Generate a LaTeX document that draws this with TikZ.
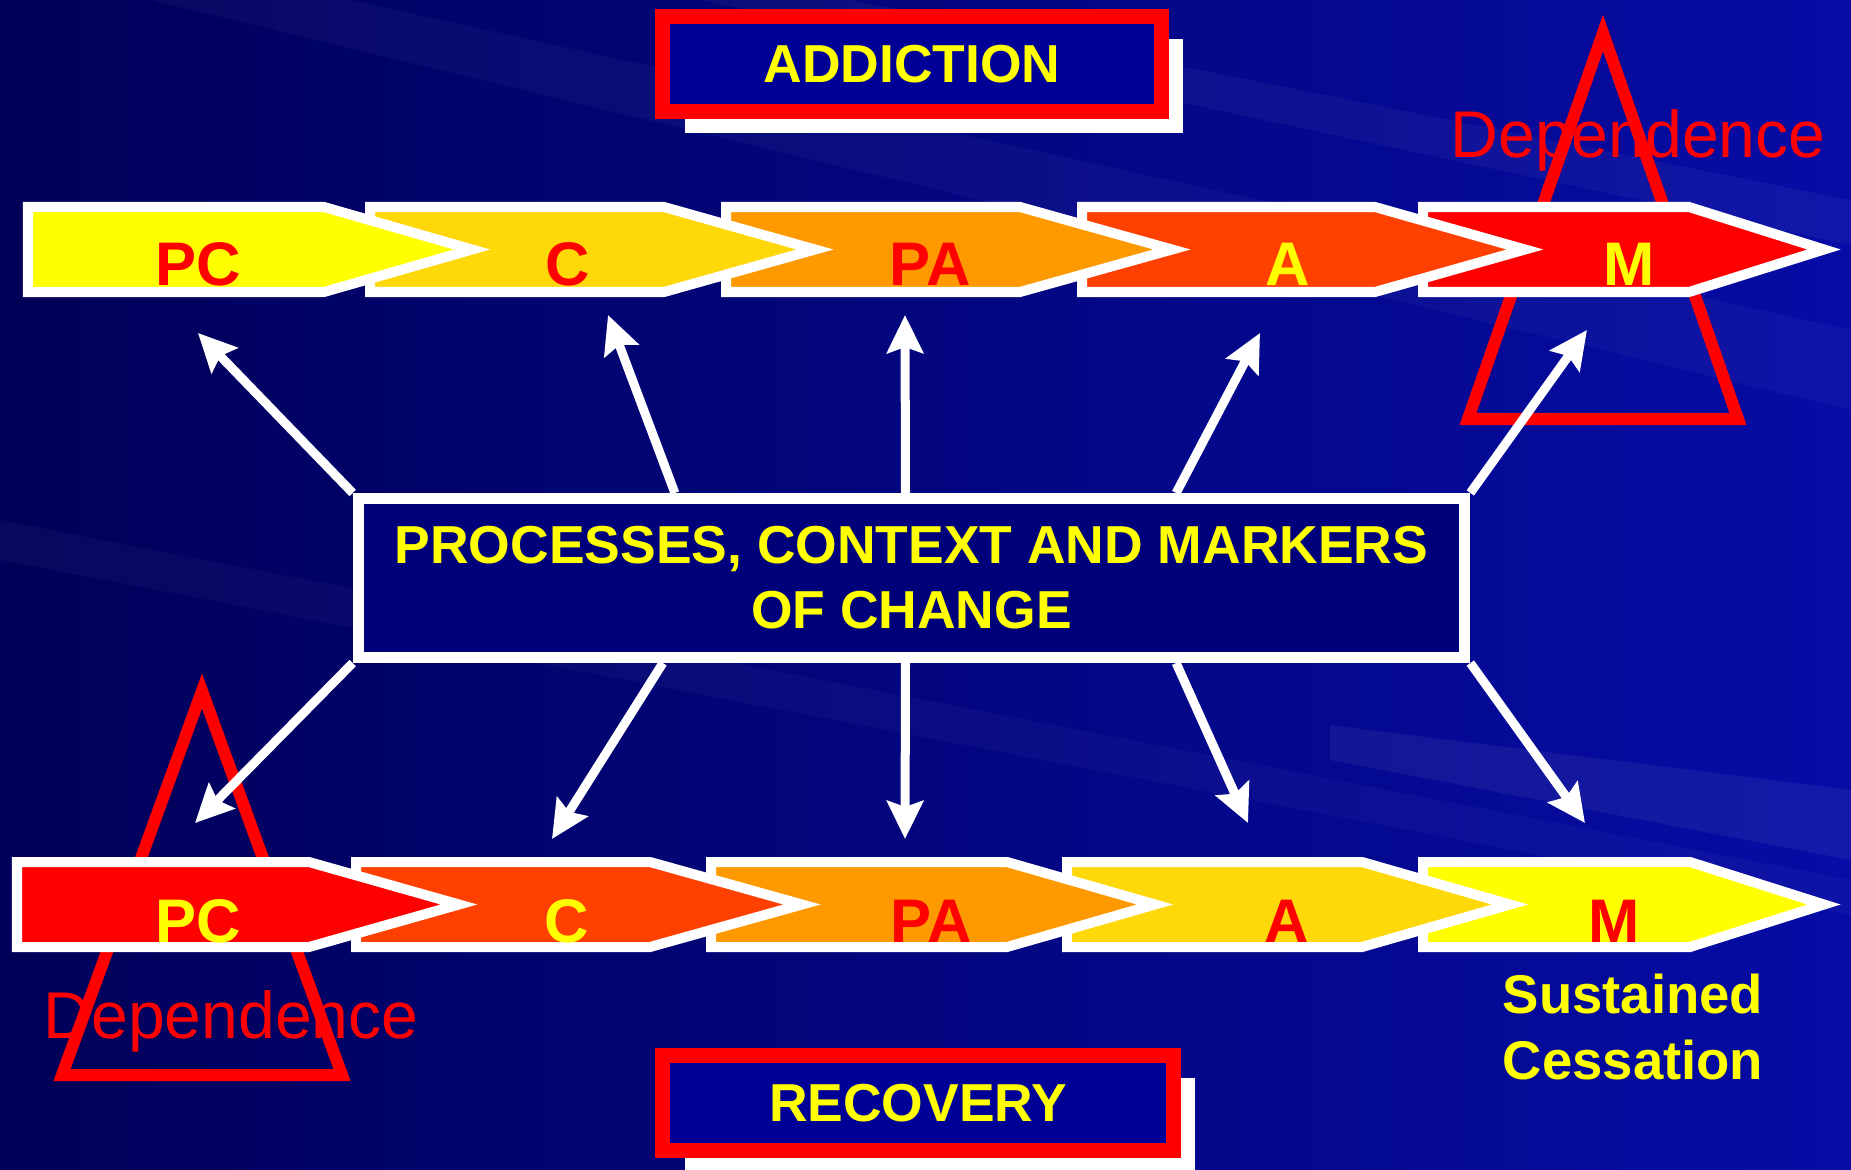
\documentclass[tikz,border=0pt]{standalone}
\usepackage{fontspec}
\setmainfont{Liberation Sans}
\usetikzlibrary{arrows.meta,shadows}
\definecolor{bgdark}{RGB}{0,0,88}
\definecolor{bglight}{RGB}{6,12,165}
\definecolor{boxblue}{RGB}{0,0,150}
\definecolor{hubblue}{RGB}{0,0,122}
\definecolor{stageyellow}{RGB}{255,255,0}
\definecolor{stagegold}{RGB}{255,216,10}
\definecolor{stageorange}{RGB}{255,153,0}
\definecolor{stageflame}{RGB}{255,64,0}
\definecolor{stagered}{RGB}{255,0,0}
\definecolor{txtyellow}{RGB}{255,255,0}
% left edge, end of straight part, tip, centre line, fill
\newcommand{\stagechev}[5]{%
  \filldraw[chev, fill=#5] (#1+5,#4-42.5) -- (#2-3,#4-42.5) -- (#3-18,#4) -- (#2-3,#4+42.5) -- (#1+5,#4+42.5) -- cycle;}

\begin{document}
\begin{tikzpicture}[
    x=0.01cm, y=-0.01cm,
    chev/.style={draw=white, line width=1mm, miter limit=10},
    stagelbl/.style={anchor=base, inner sep=0pt, font=\fontsize{17.5}{20}\selectfont\bfseries},
    dep/.style={draw=stagered, line width=1.2mm, miter limit=10},
    deplbl/.style={anchor=base, inner sep=0pt, text=stagered, font=\fontsize{18.8}{22}\selectfont},
    title/.style={rectangle, draw=stagered, line width=1.5mm, fill=boxblue, text=txtyellow, minimum height=0.94cm, font=\fontsize{15.2}{18}\selectfont\bfseries, drop shadow={shadow xshift=0.22cm, shadow yshift=-0.22cm, fill=white, opacity=1}},
    hub/.style={rectangle, draw=white, line width=1.1mm, fill=hubblue, text=txtyellow, align=center, minimum width=11.06cm, minimum height=1.59cm, font=\fontsize{15.2}{18.5}\selectfont\bfseries},
    arrow/.style={-{Stealth[length=3.8mm, width=3.6mm, inset=0.6mm]}, white, line width=0.9mm}
]

% background
\useasboundingbox (0,0) rectangle (1851,1170);
\shade[left color=bgdark, right color=bglight] (0,0) rectangle (1851,1170);
\fill[white, opacity=0.035] (150,0) -- (350,0) -- (1851,330) -- (1851,410) -- cycle;
\fill[white, opacity=0.045] (700,0) -- (850,0) -- (1851,200) -- (1851,245) -- cycle;
\fill[white, opacity=0.06] (1330,725) -- (1851,790) -- (1851,860) -- (1330,760) -- cycle;
\fill[white, opacity=0.03] (0,520) -- (1851,880) -- (1851,915) -- (0,560) -- cycle;

% dependence triangles
\draw[dep] (1603,33) -- (1738,419) -- (1468,419) -- cycle;
\draw[dep] (202,691) -- (342,1075) -- (62,1075) -- cycle;

% addiction row
\stagechev{1418}{1692}{1842}{249.5}{stagered}
\stagechev{1077}{1378}{1543}{249.5}{stageflame}
\stagechev{721}{1023}{1190}{249.5}{stageorange}
\stagechev{365}{667}{833}{249.5}{stagegold}
\stagechev{23}{327}{490}{249.5}{stageyellow}

\node[stagelbl, text=stagered] (apc) at (198,286) {PC};
\node[stagelbl, text=stagered] (ac) at (568,286) {C};
\node[stagelbl, text=stagered] (apa) at (930,286) {PA};
\node[stagelbl, text=txtyellow] (aa) at (1288,286) {A};
\node[stagelbl, text=txtyellow] (am) at (1629,286) {M};

% recovery row
\stagechev{1418}{1693}{1842}{904.5}{stageyellow}
\stagechev{1062}{1365}{1528}{904.5}{stagegold}
\stagechev{706}{1010}{1173}{904.5}{stageorange}
\stagechev{351}{653}{820}{904.5}{stageflame}
\stagechev{12}{312}{477}{904.5}{stagered}

\node[stagelbl, text=txtyellow] (rpc) at (198,942) {PC};
\node[stagelbl, text=txtyellow] (rc) at (567,942) {C};
\node[stagelbl, text=stagered] (rpa) at (931,942) {PA};
\node[stagelbl, text=stagered] (ra) at (1287,942) {A};
\node[stagelbl, text=stagered] (rm) at (1614,942) {M};

\node[deplbl] (deptop) at (1638,158) {Dependence};
\node[deplbl] (depbot) at (231,1038) {Dependence};

\node[anchor=center, align=center, text=txtyellow, inner sep=0pt, font=\fontsize{15.5}{18.5}\selectfont\bfseries] (cess) at (1633,1027) {Sustained\\Cessation};

\node[title, minimum width=4.98cm] (addict) at (912,64) {ADDICTION};
\node[title, minimum width=5.10cm] (recov) at (918,1103) {RECOVERY};

\node[hub] (hub) at (911.5,578) {PROCESSES, CONTEXT AND MARKERS\\OF CHANGE};

\coordinate (up1) at (198,333);
\coordinate (up2) at (608,315);
\coordinate (up3) at (905,315);
\coordinate (up4) at (1260,333);
\coordinate (up5) at (1587,330);
\coordinate (dn1) at (195,823);
\coordinate (dn2) at (552,839);
\coordinate (dn3) at (905,839);
\coordinate (dn4) at (1248,823);
\coordinate (dn5) at (1585,823);

\draw[arrow] (hub.north west) -- (up1);
\draw[arrow] ([xshift=3.22cm]hub.north west) -- (up2);
\draw[arrow] ([xshift=-0.06cm]hub.north) -- (up3);
\draw[arrow] ([xshift=8.23cm]hub.north west) -- (up4);
\draw[arrow] (hub.north east) -- (up5);
\draw[arrow] (hub.south west) -- (dn1);
\draw[arrow] ([xshift=3.1cm]hub.south west) -- (dn2);
\draw[arrow] ([xshift=-0.06cm]hub.south) -- (dn3);
\draw[arrow] ([xshift=8.23cm]hub.south west) -- (dn4);
\draw[arrow] (hub.south east) -- (dn5);

\end{tikzpicture}
\end{document}
